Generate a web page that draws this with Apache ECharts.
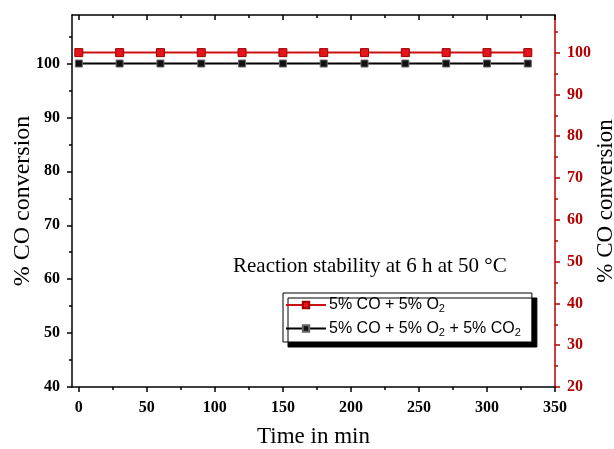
<!DOCTYPE html>
<html>
<head>
<meta charset="utf-8">
<script src="https://cdn.jsdelivr.net/npm/echarts@6/dist/echarts.min.js"></script>
<style>
  html, body { margin: 0; padding: 0; background: #fff; }
  #main { width: 614px; height: 449px; }
</style>
</head>
<body>
<div id="main"></div>
<script>
// time points (min)
var timeMin = [0, 30, 60, 90, 120, 150, 180, 210, 240, 270, 300, 330];
// CO conversion (%) for each feed
var convCoO2 = [100, 100, 100, 100, 100, 100, 100, 100, 100, 100, 100, 100];      // right axis
var convCoO2Co2 = [100, 100, 100, 100, 100, 100, 100, 100, 100, 100, 100, 100];   // left axis
var seriesNames = ["5% CO + 5% O2", "5% CO + 5% O2 + 5% CO2"];

var xMajor = [0, 50, 100, 150, 200, 250, 300, 350];
var xMinor = [25, 75, 125, 175, 225, 275, 325];
var leftMajor = [40, 50, 60, 70, 80, 90, 100];
var leftMinor = [45, 55, 65, 75, 85, 95, 105];
var rightMajor = [20, 30, 40, 50, 60, 70, 80, 90, 100];
var rightMinor = [25, 35, 45, 55, 65, 75, 85, 95, 105];

var RED = "#b50000";
var serif = "'Liberation Serif', 'Times New Roman', serif";

function pairs(xs, ys) {
  var out = [];
  for (var i = 0; i < xs.length; i++) out.push([xs[i], ys[i]]);
  return out;
}

var chart = echarts.init(document.getElementById("main"));

var tickLabel = {
  fontFamily: serif,
  fontWeight: "bold",
  fontSize: 16,
  color: "#000",
  margin: 12
};

function xAx(opt) {
  return Object.assign({
    type: "value",
    min: -5,
    max: 350,
    splitLine: { show: false },
    axisLabel: { show: false },
    axisLine: { show: false, onZero: false }
  }, opt);
}
function yAx(opt) {
  return Object.assign({
    type: "value",
    splitLine: { show: false },
    axisLabel: { show: false },
    axisLine: { show: false, onZero: false }
  }, opt);
}

var option = {
  backgroundColor: "#fff",
  animation: false,
  grid: { left: 72, right: 59, top: 15, bottom: 62, outerBoundsMode: "none", containLabel: false },
  xAxis: [
    xAx({
      position: "bottom",
      name: "Time in min",
      nameLocation: "middle",
      nameGap: 38,
      nameTextStyle: { fontFamily: serif, fontSize: 23, color: "#000" },
      axisLine: { show: true, onZero: false, lineStyle: { color: "#000", width: 1.5 } },
      axisTick: { show: true, length: 5, customValues: xMajor, lineStyle: { color: "#000", width: 1.5 } },
      axisLabel: Object.assign({ show: true, customValues: xMajor }, tickLabel, { margin: 13 })
    }),
    xAx({
      position: "bottom",
      axisTick: { show: true, length: 3, customValues: xMinor, lineStyle: { color: "#000", width: 1.5 } }
    }),
    xAx({
      position: "top",
      axisLine: { show: true, onZero: false, lineStyle: { color: "#000", width: 1.5 } },
      axisTick: { show: true, inside: true, length: 5, customValues: xMajor, lineStyle: { color: "#000", width: 1.5 } }
    }),
    xAx({
      position: "top",
      axisTick: { show: true, inside: true, length: 3, customValues: xMinor, lineStyle: { color: "#000", width: 1.5 } }
    })
  ],
  yAxis: [
    yAx({
      position: "left",
      min: 40,
      max: 109,
      name: "% CO conversion",
      nameLocation: "middle",
      nameGap: 37,
      nameMoveOverlap: false,
      nameTextStyle: { fontFamily: serif, fontSize: 24, color: "#000" },
      axisLine: { show: true, onZero: false, lineStyle: { color: "#000", width: 1.5 } },
      axisTick: { show: true, length: 5, customValues: leftMajor, lineStyle: { color: "#000", width: 1.5 } },
      axisLabel: Object.assign({ show: true, customValues: leftMajor }, tickLabel)
    }),
    yAx({
      position: "right",
      min: 20,
      max: 109,
      name: "% CO conversion",
      nameLocation: "middle",
      nameGap: 39,
      nameRotate: 90,
      nameMoveOverlap: false,
      nameTextStyle: { fontFamily: serif, fontSize: 23, color: "#000" },
      axisLine: { show: true, onZero: false, lineStyle: { color: RED, width: 1.5 } },
      axisTick: { show: true, length: 5, customValues: rightMajor, lineStyle: { color: RED, width: 1.5 } },
      axisLabel: Object.assign({ show: true, customValues: rightMajor }, tickLabel, { color: RED })
    }),
    yAx({
      position: "left",
      offset: 0,
      min: 40,
      max: 109,
      axisTick: { show: true, length: 3, customValues: leftMinor, lineStyle: { color: "#000", width: 1.5 } }
    }),
    yAx({
      position: "right",
      offset: 0,
      min: 20,
      max: 109,
      axisTick: { show: true, length: 3, customValues: rightMinor, lineStyle: { color: RED, width: 1.5 } }
    })
  ],
  legend: {
    orient: "vertical",
    left: 283,
    top: 293,
    padding: [3, 11, 4, 2],
    itemGap: 5,
    itemWidth: 40,
    itemHeight: 8,
    backgroundColor: "#fff",
    borderColor: "#000",
    borderWidth: 1,
    borderRadius: 0,
    shadowColor: "#000",
    shadowBlur: 0,
    shadowOffsetX: 5,
    shadowOffsetY: 5,
    data: seriesNames,
    formatter: function (name) {
      return name.replace(/O2/g, "O{s|2}");
    },
    textStyle: {
      fontFamily: "'Liberation Sans', Arial, sans-serif",
      fontSize: 16,
      lineHeight: 18,
      color: "#000",
      padding: [0, 0, 0, -2],
      rich: {
        s: { fontSize: 11, fontFamily: "'Liberation Sans', Arial, sans-serif", padding: [8, 0, 0, 0] }
      }
    }
  },
  graphic: [
    {
      type: "text",
      left: 233,
      top: 256,
      style: {
        text: "Reaction stability at 6 h at 50 °C",
        font: "21px " + serif,
        fill: "#000"
      }
    }
  ],
  series: [
    {
      name: seriesNames[0],
      type: "line",
      xAxisIndex: 0,
      yAxisIndex: 1,
      data: pairs(timeMin, convCoO2),
      symbol: "rect",
      symbolSize: 8,
      lineStyle: { color: "#cc1111", width: 2 },
      itemStyle: { color: "#e3141c", borderColor: "#a00000", borderWidth: 1 }
    },
    {
      name: seriesNames[1],
      type: "line",
      xAxisIndex: 0,
      yAxisIndex: 0,
      data: pairs(timeMin, convCoO2Co2),
      symbol: "rect",
      symbolSize: 7,
      lineStyle: { color: "#000", width: 2 },
      itemStyle: { color: "#111", borderColor: "#666", borderWidth: 1 }
    }
  ]
};

chart.setOption(option);
</script>
</body>
</html>
